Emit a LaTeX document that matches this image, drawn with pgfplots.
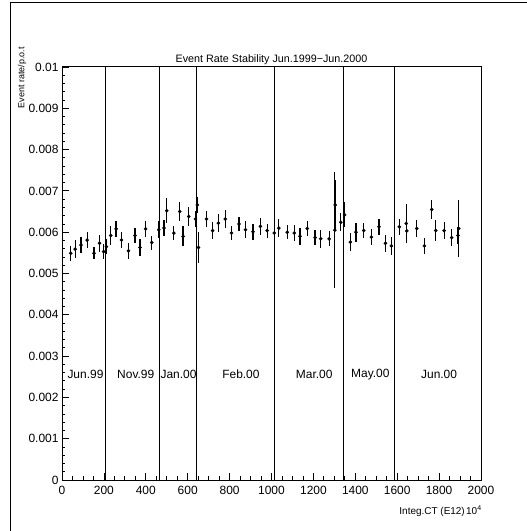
\documentclass[border=0pt]{standalone}
\usepackage{fontspec}
\setmainfont{Liberation Sans}
\usepackage{pgfplots}
\pgfplotsset{compat=1.18}
\usepackage{pgfplotstable}

% integrated CT (E12 x 1e4), rate/p.o.t, error
\pgfplotstableread{
x y e
42 0.00549 0.00018
63 0.00559 0.00022
91 0.00569 0.00020
120 0.00581 0.00020
153 0.00549 0.00015
179 0.00573 0.00020
199 0.00553 0.00019
212 0.00565 0.00018
233 0.00592 0.00022
258 0.00608 0.00020
284 0.00581 0.00020
317 0.00555 0.00019
348 0.00592 0.00019
372 0.00563 0.00020
399 0.00608 0.00020
428 0.00575 0.00017
462 0.00606 0.00020
487 0.00610 0.00020
500 0.00652 0.00030
534 0.00598 0.00018
562 0.00650 0.00022
578 0.00590 0.00024
605 0.00638 0.00022
637 0.00632 0.00020
646 0.00666 0.00020
652 0.00563 0.00038
690 0.00632 0.00020
719 0.00604 0.00020
746 0.00622 0.00022
779 0.00632 0.00021
809 0.00598 0.00018
845 0.00620 0.00018
876 0.00606 0.00020
912 0.00601 0.00020
947 0.00614 0.00020
979 0.00604 0.00017
1013 0.00598 0.00020
1035 0.00610 0.00022
1075 0.00600 0.00017
1109 0.00598 0.00019
1136 0.00590 0.00020
1171 0.00609 0.00018
1208 0.00587 0.00018
1235 0.00584 0.00022
1275 0.00584 0.00018
1302 0.00605 0.00140
1304 0.00666 0.00060
1331 0.00624 0.00022
1349 0.00642 0.00030
1376 0.00576 0.00021
1403 0.00600 0.00023
1440 0.00604 0.00018
1477 0.00588 0.00020
1513 0.00613 0.00020
1544 0.00573 0.00020
1572 0.00567 0.00022
1610 0.00613 0.00020
1643 0.00621 0.00048
1646 0.00603 0.00020
1693 0.00609 0.00020
1730 0.00567 0.00019
1765 0.00655 0.00024
1784 0.00604 0.00026
1824 0.00604 0.00020
1860 0.00587 0.00020
1890 0.00592 0.00020
1894 0.00609 0.00068
}\rates

\begin{document}
\begin{tikzpicture}
\useasboundingbox (-62bp,-51bp) rectangle (465bp,480bp);
\begin{axis}[
    at={(0,0)}, anchor=south west,
    scale only axis,
    width=419bp, height=413bp,
    xmin=0, xmax=2000, ymin=0, ymax=0.01,
    xtick={0,200,...,2000},
    xticklabels={0,200,400,600,800,1000,1200,1400,1600,1800,2000},
    ytick={0,0.001,0.002,0.003,0.004,0.005,0.006,0.007,0.008,0.009,0.01},
    yticklabels={0,0.001,0.002,0.003,0.004,0.005,0.006,0.007,0.008,0.009,0.01},
    minor x tick num=3,
    minor y tick num=4,
    scaled y ticks=false,
    tick align=inside,
    xtick pos=bottom, ytick pos=left,
    major tick length=7bp, minor tick length=3.5bp,
    every tick/.style={black, line width=0.8pt},
    axis line style={line width=1pt},
    ticklabel style={font=\fontsize{12}{14}\selectfont},
    xticklabel style={yshift=-3bp},
    title={Event Rate Stability Jun.1999−Jun.2000},
    title style={font=\fontsize{10.8}{13}\selectfont, at={(0.5,1)}, anchor=base, inner sep=0pt, yshift=-1bp},
  ]
  % run period boundaries
  \addplot[black, line width=1.1pt, forget plot] coordinates {(209,0) (209,0.01)};
  \addplot[black, line width=1.1pt, forget plot] coordinates {(465,0) (465,0.01)};
  \addplot[black, line width=1.1pt, forget plot] coordinates {(644,0) (644,0.01)};
  \addplot[black, line width=1.1pt, forget plot] coordinates {(1013,0) (1013,0.01)};
  \addplot[black, line width=1.1pt, forget plot] coordinates {(1344,0) (1344,0.01)};
  \addplot[black, line width=1.1pt, forget plot] coordinates {(1585,0) (1585,0.01)};

  \addplot[only marks, mark=*, mark size=1.6bp, black,
    error bars/.cd, y dir=both, y explicit, error mark=none,
    error bar style={line width=1.2pt, black}]
    table[x=x, y=y, y error=e] {\rates};

  \begin{scope}[font=\fontsize{12}{14}\selectfont]
  \node at (axis cs:112,0.00256) {Jun.99};
  \node at (axis cs:352,0.00256) {Nov.99};
  \node at (axis cs:556,0.00256) {Jan.00};
  \node at (axis cs:854,0.00256) {Feb.00};
  \node at (axis cs:1204,0.00256) {Mar.00};
  \node at (axis cs:1472,0.00256) {May.00};
  \node at (axis cs:1800,0.00256) {Jun.00};
  \end{scope}
\end{axis}
\node[rotate=90, anchor=east, inner sep=0pt, font=\fontsize{9}{10}\selectfont] at (-40bp,433bp) {Event rate/p.o.t};
\node[anchor=base east, inner sep=0pt, font=\fontsize{10}{12}\selectfont] at (403bp,-34bp) {Integ.CT (E12)};
\node[anchor=base west, inner sep=0pt, font=\fontsize{10}{12}\selectfont] at (404bp,-34bp) {10\textsuperscript{4}};
\draw[line width=1pt] (-52bp,-51bp) -- (-52bp,477bp) -- (465bp,477bp);
\end{tikzpicture}
\end{document}
